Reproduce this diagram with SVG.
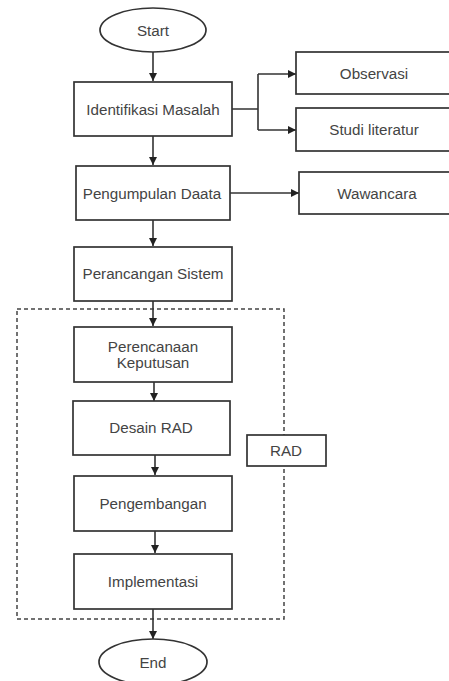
<svg xmlns="http://www.w3.org/2000/svg" width="449" height="681" viewBox="0 0 449 681">
<defs>
<style>
.box{fill:#fff;stroke:#333;stroke-width:1.7}
.t{font-family:"Liberation Sans",Arial,sans-serif;font-size:15.2px;fill:#444;text-anchor:middle;dominant-baseline:central}
.c{fill:none;stroke:#333;stroke-width:1.6}
.dash{fill:none;stroke:#444;stroke-width:1.5;stroke-dasharray:4 3}
</style>
<marker id="ah" viewBox="0 0 10 10" refX="10" refY="5" markerWidth="8" markerHeight="8" markerUnits="userSpaceOnUse" orient="auto">
<path d="M0,0 L10,5 L0,10 z" fill="#222"/>
</marker>
</defs>
<rect width="449" height="681" fill="#fff"/>
<rect class="dash" x="17" y="309" width="267" height="310"/>
<g id="connectors">
<path class="c" d="M153,52 V81" marker-end="url(#ah)"/>
<path class="c" d="M232,109 H258 M258,74 V130 M258,74 H296" marker-end="url(#ah)"/>
<path class="c" d="M258,130 H296" marker-end="url(#ah)"/>
<path class="c" d="M153,136 V165" marker-end="url(#ah)"/>
<path class="c" d="M230,193 H299" marker-end="url(#ah)"/>
<path class="c" d="M153,220 V246" marker-end="url(#ah)"/>
<path class="c" d="M153,301 V326" marker-end="url(#ah)"/>
<path class="c" d="M154,382 V401" marker-end="url(#ah)"/>
<path class="c" d="M155,455 V475" marker-end="url(#ah)"/>
<path class="c" d="M155,531 V553" marker-end="url(#ah)"/>
<path class="c" d="M153,602 V639" marker-end="url(#ah)"/>
</g>
<g id="start"><ellipse class="box" cx="153" cy="30" rx="53" ry="22"/><text class="t" x="153" y="30">Start</text></g>
<g id="identifikasi"><rect class="box" x="74" y="82" width="158" height="54"/><text class="t" x="153" y="109">Identifikasi Masalah</text></g>
<g id="observasi"><rect class="box" x="296" y="52" width="156" height="42"/><text class="t" x="374" y="73">Observasi</text></g>
<g id="studi"><rect class="box" x="296" y="108" width="156" height="43"/><text class="t" x="374" y="129">Studi literatur</text></g>
<g id="pengumpulan"><rect class="box" x="76" y="166" width="154" height="54"/><text class="t" x="152" y="193">Pengumpulan Daata</text></g>
<g id="wawancara"><rect class="box" x="299" y="172" width="153" height="42"/><text class="t" x="377" y="193">Wawancara</text></g>
<g id="perancangan"><rect class="box" x="74" y="247" width="158" height="54"/><text class="t" x="153" y="273">Perancangan Sistem</text></g>
<g id="perencanaan"><rect class="box" x="74" y="327" width="158" height="55"/><text class="t" x="153" y="346">Perencanaan</text><text class="t" x="153" y="362">Keputusan</text></g>
<g id="desain"><rect class="box" x="73" y="401" width="157" height="54"/><text class="t" x="151" y="427">Desain RAD</text></g>
<g id="rad"><rect class="box" x="247" y="435" width="79" height="31"/><text class="t" x="286" y="450">RAD</text></g>
<g id="pengembangan"><rect class="box" x="74" y="476" width="158" height="55"/><text class="t" x="153" y="503">Pengembangan</text></g>
<g id="implementasi"><rect class="box" x="74" y="554" width="158" height="55"/><text class="t" x="153" y="581">Implementasi</text></g>
<g id="end"><ellipse class="box" cx="153" cy="662" rx="54" ry="23"/><text class="t" x="153" y="662">End</text></g>
</svg>
